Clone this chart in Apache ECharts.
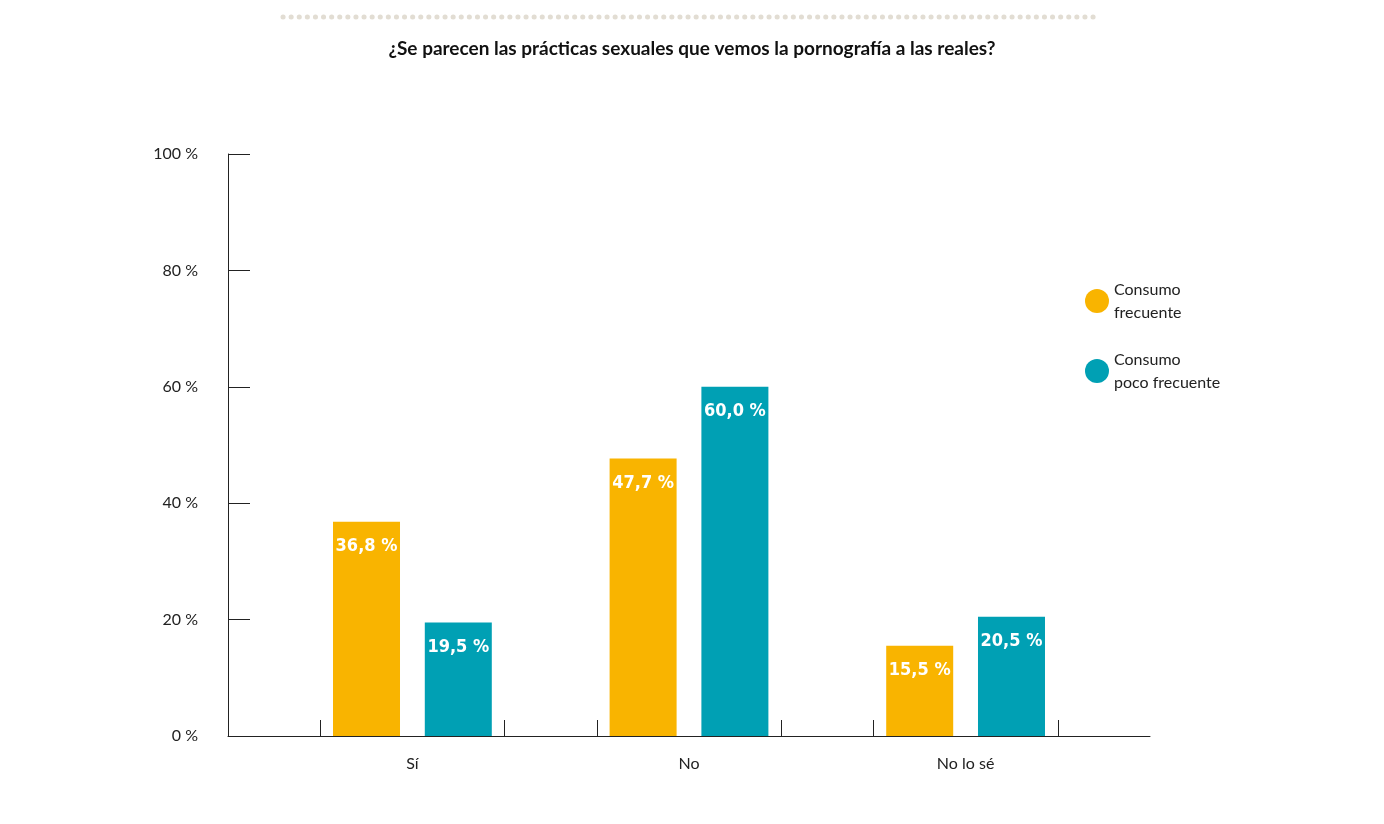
<!DOCTYPE html>
<html><head><meta charset="utf-8">
<script src="https://cdn.jsdelivr.net/npm/echarts@6/dist/echarts.min.js"></script>
<style>html,body{margin:0;background:#fff}#c{width:1384px;height:824px}</style>
</head><body><div id="c"></div>
<script>
// categorías y valores (%)
var categories = ['Sí', 'No', 'No lo sé'];
var catPos = [2, 5, 8];
var frecuente = [36.8, 47.7, 15.5];
var pocoFrecuente = [19.5, 60.0, 20.5];
var yTicks = [0, 20, 40, 60, 80, 100];

var chart = echarts.init(document.getElementById('c'));
var font = 'Lato, "Noto Sans", sans-serif';

function pairs(vals) {
    var out = [];
    for (var i = 0; i < vals.length; i++) out.push([catPos[i], vals[i]]);
    return out;
}
function fmt(p) { return p.value[1].toFixed(1).replace('.', ',') + ' %'; }

var labelStyle = {
    show: true, position: 'insideTop', distance: 16, formatter: fmt,
    color: '#fff', fontSize: 18, fontWeight: 'bold',
    fontFamily: '"DejaVu Sans Condensed", sans-serif'
};

chart.setOption({
    animation: false,
    title: {
        text: '¿Se parecen las prácticas sexuales que vemos la pornografía a las reales?',
        left: 'center', top: 34,
        textStyle: { fontSize: 19, fontWeight: 'bold', color: '#111', fontFamily: font }
    },
    graphic: [{
        type: 'line', shape: { x1: 283, y1: 17, x2: 1098, y2: 17 },
        style: { stroke: '#e2ddd3', lineWidth: 5, lineDash: [0.1, 8], lineCap: 'round' }
    }],
    legend: {
        orient: 'vertical', left: 1080, top: 273, itemGap: 24,
        icon: 'circle', itemWidth: 24, itemHeight: 24,
        textStyle: { fontSize: 16, color: '#222', fontFamily: font, lineHeight: 23 },
        formatter: function (n) { return n.replace(' ', '\n'); },
        data: ['Consumo frecuente', 'Consumo poco frecuente']
    },
    grid: { left: 228, right: 234, top: 154, bottom: 88 },
    xAxis: {
        type: 'value', min: 0, max: 10, interval: 1,
        axisLine: { lineStyle: { color: '#222' } },
        splitLine: { show: false },
        axisTick: { inside: true, length: 16, customValues: [0, 1, 3, 4, 6, 7, 9], lineStyle: { color: '#222' } },
        axisLabel: {
            customValues: catPos, margin: 20,
            formatter: function (v) { return categories[catPos.indexOf(v)] || ''; },
            fontSize: 16, color: '#222', fontFamily: font
        }
    },
    yAxis: {
        type: 'value', min: 0, max: 100, interval: 20,
        axisLine: { show: true, lineStyle: { color: '#222' } },
        axisTick: { show: true, inside: true, length: 22, lineStyle: { color: '#222' } },
        splitLine: { show: false },
        axisLabel: {
            formatter: '{value} %', margin: 30, fontSize: 16, color: '#222', fontFamily: font
        }
    },
    series: [
        { name: 'Consumo frecuente', type: 'bar', data: pairs(frecuente), barWidth: 67, barGap: '37%',
          itemStyle: { color: '#f9b400' }, label: labelStyle },
        { name: 'Consumo poco frecuente', type: 'bar', data: pairs(pocoFrecuente), barWidth: 67, barGap: '37%',
          itemStyle: { color: '#00a0b4' }, label: labelStyle }
    ]
});
</script></body></html>
